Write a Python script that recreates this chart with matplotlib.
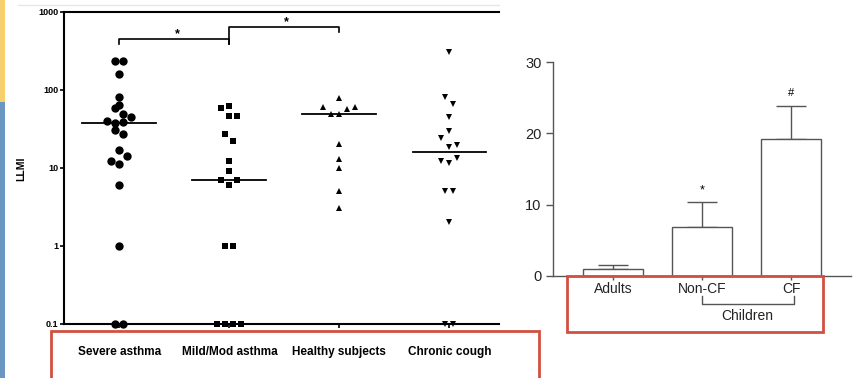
import numpy as np
import matplotlib.pyplot as plt
from matplotlib.patches import Rectangle

plt.rcParams['font.family'] = ['Liberation Sans', 'DejaVu Sans']

# Left panel: LLMI per group (log scale), with horizontal jitter in pixels
groups = ['Severe asthma', 'Mild/Mod asthma', 'Healthy subjects', 'Chronic cough']
severe = [235, 235, 159, 81, 63, 59, 48, 45, 40, 37.5, 38, 30, 27, 17, 14, 12, 11, 6, 1, 0.1, 0.1]
severe_dx = [-4, 4, 0, 0, 0, -4, 4, 12, -12, -4, 4, -4, 4, 0, 8, -8, 0, 0, 0, -4, 4]
mild = [62, 58, 46, 46, 27, 22, 12, 9, 7, 7, 6, 1, 1, 0.1, 0.1, 0.1, 0.1]
mild_dx = [0, -8, 0, 8, -4, 4, 0, 0, -8, 8, 0, -4, 4, -12, -4, 4, 12]
healthy = [79, 60, 60, 56, 48, 48, 20, 13, 10, 5, 3]
healthy_dx = [0, -16, 16, 8, -8, 0, 0, 0, 0, 0, 0]
cough = [302, 81, 65, 45, 29.5, 24, 18.6, 19.3, 12.3, 11.3, 13.3, 5, 5, 2, 0.1, 0.1]
cough_dx = [0, -4, 4, 0, 0, -8, 0, 8, -8, 0, 8, -4, 4, 0, -4, 4]

# Right panel: bar chart with upper error bars
bar_labels = ['Adults', 'Non-CF', 'CF']
bar_vals = [0.95, 6.85, 19.2]
bar_err = [0.5, 3.55, 4.6]

W, H = 857, 378
fig = plt.figure(figsize=(W / 100, H / 100), dpi=100)


def px_rect(x0, y0, x1, y1):
    return [x0 / W, 1 - y1 / H, (x1 - x0) / W, (y1 - y0) / H]


# slide decorations
fig.add_artist(Rectangle((0, 1 - 102 / H), 5 / W, 102 / H, transform=fig.transFigure,
                         color='#f5d06c', lw=0))
fig.add_artist(Rectangle((0, 0), 5 / W, 1 - 102 / H, transform=fig.transFigure,
                         color='#6b96c2', lw=0))
fig.add_artist(plt.Line2D([18 / W, 499 / W], [1 - 5 / H, 1 - 5 / H], transform=fig.transFigure,
                          color='#e6e6e6', lw=1))

# ---- left panel ----
ax = fig.add_axes(px_rect(64.3, 11.7, 499, 323.5))
ax.set_yscale('log')
ax.set_ylim(0.1, 1000)
ax.set_xlim(0.5, 4.45)
ax.spines['right'].set_visible(False)
for s in ['left', 'bottom', 'top']:
    ax.spines[s].set_linewidth(1.5)

series = [(severe, severe_dx, 'o', 6.0), (mild, mild_dx, 's', 5.0),
          (healthy, healthy_dx, '^', 4.8), (cough, cough_dx, 'v', 4.8)]
for i, (vals, dx, mk, ms) in enumerate(series):
    pos = i + 1
    xs = pos + np.array(dx) / 110.0
    ax.plot(xs, vals, ls='none', marker=mk, ms=ms, mew=0, color='black', clip_on=False, zorder=3)
    med = np.median(vals)
    ax.plot([pos - 0.336, pos + 0.336], [med, med], color='black', lw=1.3)

ax.set_yticks([0.1, 1, 10, 100, 1000])
ax.set_yticklabels(['0.1', '1', '10', '100', '1000'], fontsize=6.5, fontweight='bold')
ax.yaxis.set_minor_locator(plt.NullLocator())
ax.set_xticks([1, 2, 3, 4])
ax.set_xticklabels([])
ax.tick_params(axis='both', direction='out', length=3, width=1.2, pad=1)

for i, g in enumerate(groups):
    ax.text(i + 1, -0.0915, g, transform=ax.get_xaxis_transform(), ha='center', va='center',
            fontsize=8.5, fontweight='bold')

# significance brackets
ax.plot([1, 1, 2, 2], [389, 443, 443, 389], color='black', lw=1.2, clip_on=False)
ax.plot([2, 2, 3, 3], [389, 630, 630, 545], color='black', lw=1.2, clip_on=False)
ax.text(1.53, 430, '*', ha='center', va='bottom', fontsize=9, fontweight='bold')
ax.text(2.52, 610, '*', ha='center', va='bottom', fontsize=9, fontweight='bold')

fig.text(21.5 / W, 1 - 169 / H, 'LLMI', rotation=90, ha='center', va='center',
         fontsize=7.5, fontweight='bold')

# ---- right panel ----
ax2 = fig.add_axes(px_rect(552.7, 62.3, 850.7, 275.7))
pos2 = np.arange(len(bar_vals))
gray = '#555555'
ax2.bar(pos2, bar_vals, width=0.673, color='white', edgecolor=gray, linewidth=1, zorder=2)
ax2.errorbar(pos2, bar_vals, yerr=[np.zeros(len(bar_err)), bar_err], fmt='none',
             ecolor=gray, elinewidth=1, capsize=10.8, capthick=1, zorder=1)
ax2.set_ylim(0, 30)
ax2.set_xlim(-0.676, 2.665)
ax2.spines['top'].set_visible(False)
ax2.spines['right'].set_visible(False)
for s in ['left', 'bottom']:
    ax2.spines[s].set_color(gray)
    ax2.spines[s].set_linewidth(1)
ax2.set_yticks([0, 10, 20, 30])
ax2.set_yticklabels(['0', '10', '20', '30'], fontsize=10.5, color='#222222')
ax2.set_xticks(pos2)
ax2.set_xticklabels([])
ax2.tick_params(axis='y', direction='out', length=5, width=1, color=gray, pad=3)
ax2.tick_params(axis='x', direction='out', length=3, width=1, color=gray)

ax2.text(1, 12.0, '*', ha='center', va='center', fontsize=9)
ax2.text(2, 25.7, '#', ha='center', va='center', fontsize=8)

xt = ax2.get_xaxis_transform()
for p, lab in zip(pos2, bar_labels):
    ax2.text(p, -0.062, lab, transform=xt, ha='center', va='center', fontsize=10, color='#222222')
ax2.plot([1, 1, 2.03, 2.03], [-0.095, -0.1326, -0.1326, -0.095], transform=xt,
         color=gray, lw=1, clip_on=False)
ax2.text(1.5, -0.189, 'Children', transform=xt, ha='center', va='center', fontsize=10,
         color='#222222')

# red highlight boxes
red = '#d25041'
fig.add_artist(Rectangle((51 / W, 1 - 380 / H), 488 / W, 49 / H, transform=fig.transFigure,
                         fill=False, edgecolor=red, lw=2, zorder=10))
fig.add_artist(Rectangle((567 / W, 1 - 332 / H), 256 / W, 56 / H, transform=fig.transFigure,
                         fill=False, edgecolor=red, lw=2, zorder=10))

fig.savefig('out.png', dpi=100)
